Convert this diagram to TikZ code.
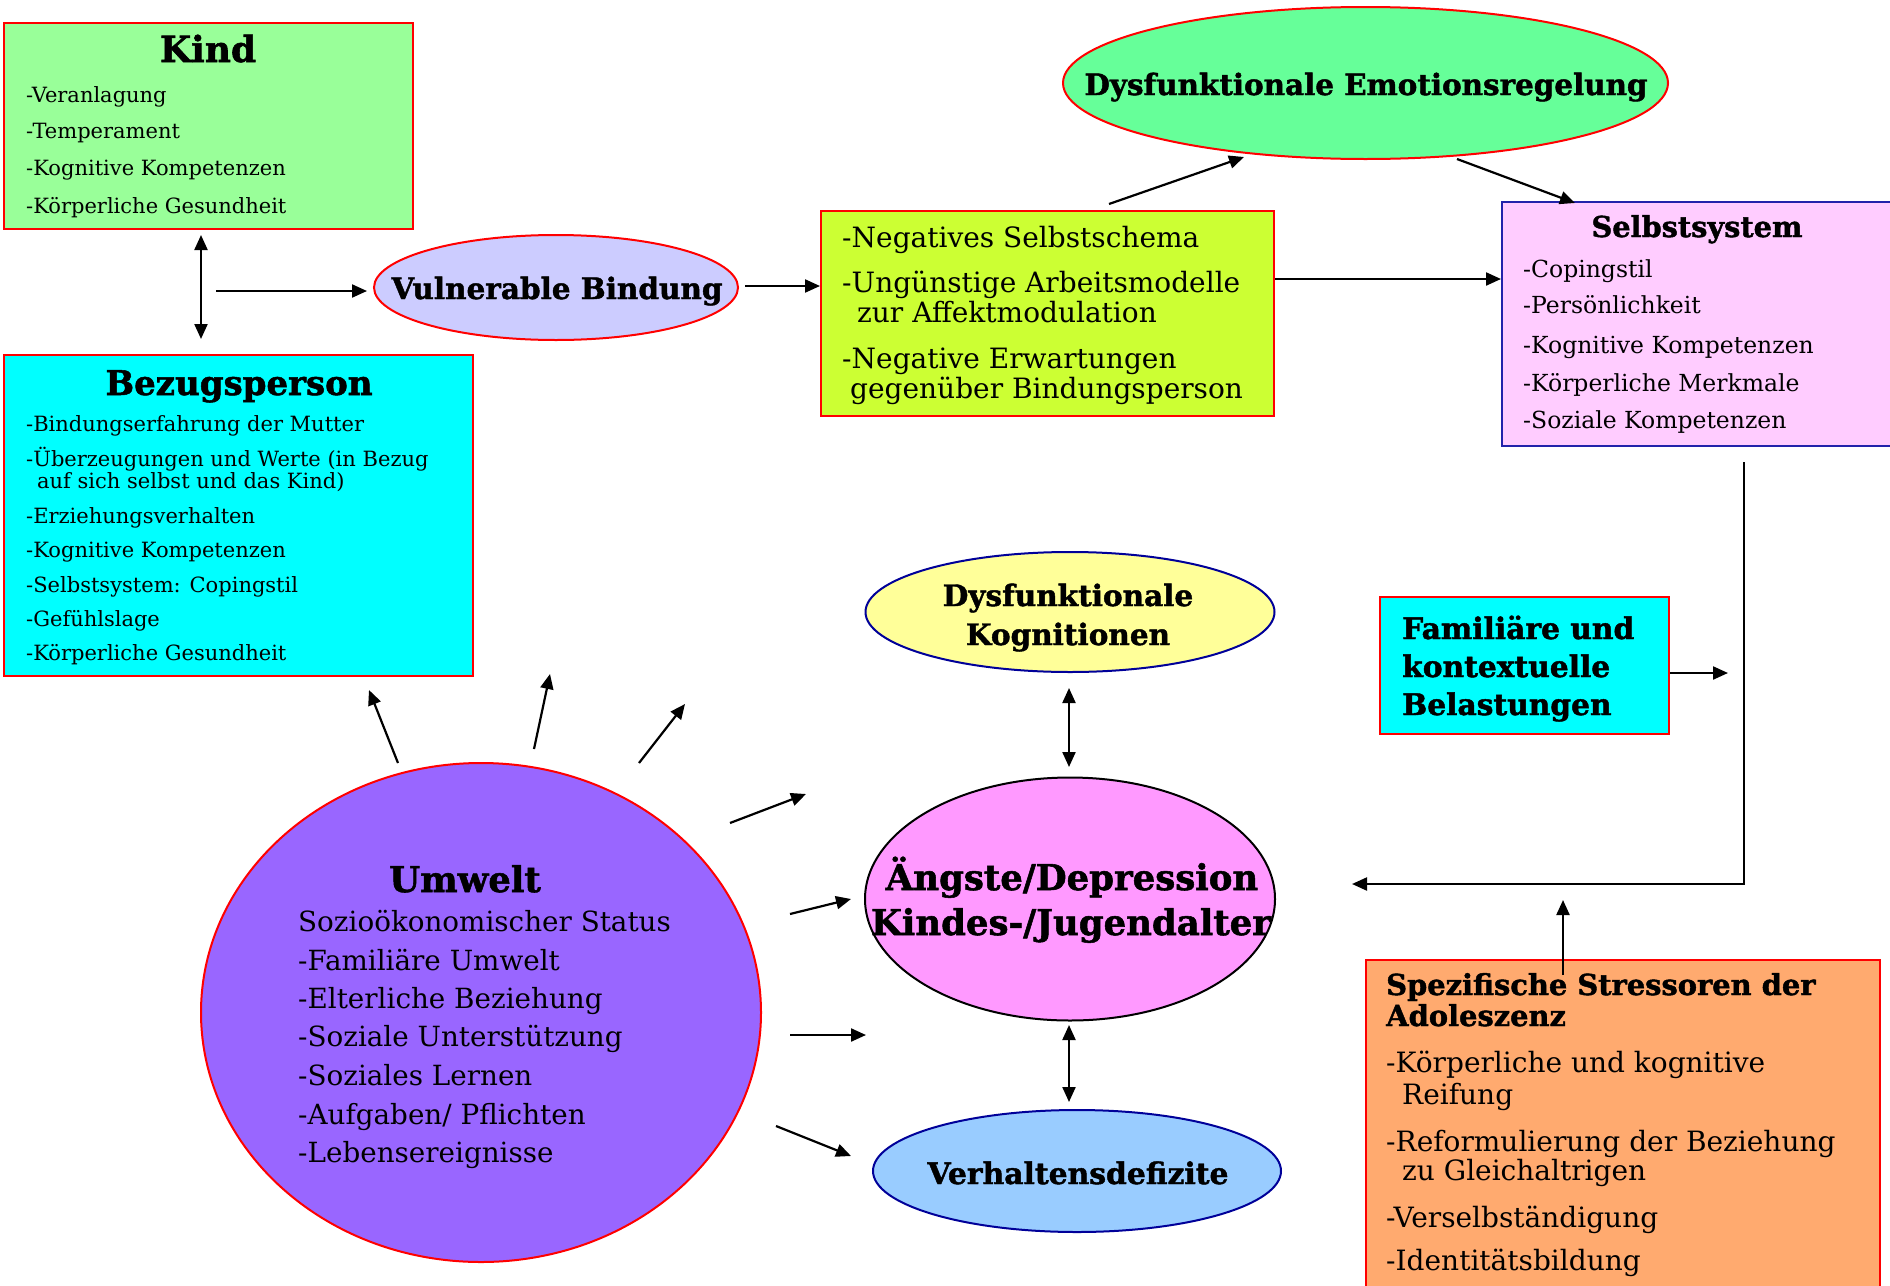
\documentclass[tikz,border=0pt]{standalone}
\usepackage{fontspec}
\setmainfont{DejaVu Serif}[BoldFeatures={FakeBold=1.5}]
\usetikzlibrary{arrows.meta,shapes.geometric}
\definecolor{kindgreen}{HTML}{99FF99}
\definecolor{cyanb}{HTML}{00FFFF}
\definecolor{vulc}{HTML}{CCCCFF}
\definecolor{limec}{HTML}{CCFF33}
\definecolor{emoc}{HTML}{66FF99}
\definecolor{selbc}{HTML}{FFCCFF}
\definecolor{selbb}{HTML}{2222AA}
\definecolor{spezc}{HTML}{FFAA6F}
\definecolor{kognc}{HTML}{FFFF99}
\definecolor{navyb}{HTML}{000099}
\definecolor{angc}{HTML}{FF99FF}
\definecolor{verhc}{HTML}{99CCFF}
\definecolor{umwc}{HTML}{9966FF}
\newcommand{\fsz}[1]{\fontsize{#1}{#1}\selectfont}
\newcommand{\bsz}[1]{\bfseries\fontsize{#1}{#1}\selectfont}
\begin{document}
\begin{tikzpicture}[x=1pt,y=-1pt,
  box/.style={rectangle, draw=red, line width=2pt, inner sep=0pt},
  ell/.style={ellipse, draw=red, line width=2pt, inner sep=0pt},
  it/.style={anchor=base west, inner sep=0pt},
  tt/.style={anchor=base, inner sep=0pt},
  arr/.style={line width=2.2pt, -{Triangle[length=15pt,width=13pt]}},
  darr/.style={line width=2.2pt, {Triangle[length=15pt,width=13pt]}-{Triangle[length=15pt,width=13pt]}}
]
\useasboundingbox (0,0) rectangle (1890,1285);
\fill[white] (0,0) rectangle (1890,1285);

% ---------- shapes ----------
\node[box, fill=kindgreen, minimum width=409pt, minimum height=206pt] (kind) at (208.5,126) {};
\node[box, fill=cyanb, minimum width=469pt, minimum height=321pt] (bezug) at (238.5,515.5) {};
\node[ell, fill=vulc, minimum width=364pt, minimum height=105pt] (vul) at (556,287.5) {};
\node[box, fill=limec, minimum width=453pt, minimum height=205pt] (lime) at (1047.5,313.5) {};
\node[ell, fill=emoc, minimum width=605pt, minimum height=152pt] (emo) at (1365.5,83) {};
\node[box, draw=selbb, fill=selbc, minimum width=398pt, minimum height=244pt] (selbst) at (1701,324) {};
\node[box, fill=cyanb, minimum width=289pt, minimum height=137pt] (fam) at (1524.5,665.5) {};
\node[box, fill=spezc, minimum width=514pt, minimum height=340pt] (spez) at (1623,1130) {};
\node[ell, draw=navyb, fill=kognc, minimum width=409pt, minimum height=120pt] (kogn) at (1070,612) {};
\node[ell, draw=black, fill=angc, minimum width=410pt, minimum height=243pt] (angst) at (1070,899) {};
\node[ell, draw=navyb, fill=verhc, minimum width=408pt, minimum height=122pt] (verh) at (1077,1171) {};
\node[ell, fill=umwc, minimum width=560pt, minimum height=499pt] (umw) at (481,1012.5) {};

% ---------- Kind ----------
\node[tt, font=\bsz{36}] (kindT) at (208,62) {Kind};
\node[it, font=\fsz{21}] (kind1) at (26,102) {-Veranlagung};
\node[it, font=\fsz{21}] (kind2) at (26,138) {-Temperament};
\node[it, font=\fsz{21}] (kind3) at (26,175) {-Kognitive Kompetenzen};
\node[it, font=\fsz{21}] (kind4) at (26,213) {-Körperliche Gesundheit};

% ---------- Bezugsperson ----------
\node[tt, font=\bsz{34}] (bezT) at (239,395) {Bezugsperson};
\node[it, font=\fsz{21}] (bez1) at (26,431) {-Bindungserfahrung der Mutter};
\node[it, font=\fsz{21}] (bez2) at (26,466) {-Überzeugungen und Werte (in Bezug};
\node[it, font=\fsz{21}] (bez2b) at (37,488) {auf sich selbst und das Kind)};
\node[it, font=\fsz{21}] (bez3) at (26,523) {-Erziehungsverhalten};
\node[it, font=\fsz{21}] (bez4) at (26,557) {-Kognitive Kompetenzen};
\node[it, font=\fsz{21}] (bez5) at (26,592) {-Selbstsystem: Copingstil};
\node[it, font=\fsz{21}] (bez6) at (26,626) {-Gefühlslage};
\node[it, font=\fsz{21}] (bez7) at (26,660) {-Körperliche Gesundheit};

% ---------- Vulnerable Bindung ----------
\node[tt, font=\bsz{29.5}] (vulT) at (557,299) {Vulnerable Bindung};

% ---------- lime box ----------
\node[it, font=\fsz{28}] (lime1) at (842,247) {-Negatives Selbstschema};
\node[it, font=\fsz{28}] (lime2) at (842,292) {-Ungünstige Arbeitsmodelle};
\node[it, font=\fsz{28}] (lime2b) at (857,322) {zur Affektmodulation};
\node[it, font=\fsz{28}] (lime3) at (842,368) {-Negative Erwartungen};
\node[it, font=\fsz{28}] (lime3b) at (850,398) {gegenüber Bindungsperson};

% ---------- Emotionsregelung ----------
\node[tt, font=\bsz{29.4}] (emoT) at (1366,95) {Dysfunktionale Emotionsregelung};

% ---------- Selbstsystem ----------
\node[tt, font=\bsz{28.8}] (selT) at (1697,237) {Selbstsystem};
\node[it, font=\fsz{23.5}] (sel1) at (1523,277) {-Copingstil};
\node[it, font=\fsz{23.5}] (sel2) at (1523,313) {-Persönlichkeit};
\node[it, font=\fsz{23.5}] (sel3) at (1523,353) {-Kognitive Kompetenzen};
\node[it, font=\fsz{23.5}] (sel4) at (1523,391) {-Körperliche Merkmale};
\node[it, font=\fsz{23.5}] (sel5) at (1523,428) {-Soziale Kompetenzen};

% ---------- Familiaere ----------
\node[it, font=\bsz{29.7}] (fam1) at (1402,639) {Familiäre und};
\node[it, font=\bsz{29.7}] (fam2) at (1402,677) {kontextuelle};
\node[it, font=\bsz{29.7}] (fam3) at (1402,715) {Belastungen};

% ---------- Spezifische Stressoren ----------
\node[it, font=\bsz{28.9}] (spezT1) at (1386,995) {Spezifische Stressoren der};
\node[it, font=\bsz{28.9}] (spezT2) at (1386,1026) {Adoleszenz};
\node[it, font=\fsz{28}] (spez1) at (1386,1072) {-Körperliche und kognitive};
\node[it, font=\fsz{28}] (spez1b) at (1402,1104) {Reifung};
\node[it, font=\fsz{28}] (spez2) at (1386,1151) {-Reformulierung der Beziehung};
\node[it, font=\fsz{28}] (spez2b) at (1402,1180) {zu Gleichaltrigen};
\node[it, font=\fsz{28}] (spez3) at (1386,1227) {-Verselbständigung};
\node[it, font=\fsz{28}] (spez4) at (1386,1270) {-Identitätsbildung};

% ---------- centre ellipses ----------
\node[tt, font=\bsz{29.5}] (kognT1) at (1068,606) {Dysfunktionale};
\node[tt, font=\bsz{29.5}] (kognT2) at (1068,645) {Kognitionen};
\node[tt, font=\bsz{35.5}] (angT1) at (1072,890) {Ängste/Depression};
\node[tt, font=\bsz{35.5}] (angT2) at (1071,935) {Kindes-/Jugendalter};
\node[tt, font=\bsz{29.8}] (verhT) at (1078,1184) {Verhaltensdefizite};

% ---------- Umwelt ----------
\node[tt, font=\bsz{35.5}] (umwT) at (465,892) {Umwelt};
\node[it, font=\fsz{27.8}] (umw1) at (298,931) {Sozioökonomischer Status};
\node[it, font=\fsz{27.8}] (umw2) at (298,970) {-Familiäre Umwelt};
\node[it, font=\fsz{27.8}] (umw3) at (298,1008) {-Elterliche Beziehung};
\node[it, font=\fsz{27.8}] (umw4) at (298,1046) {-Soziale Unterstützung};
\node[it, font=\fsz{27.8}] (umw5) at (298,1085) {-Soziales Lernen};
\node[it, font=\fsz{27.8}] (umw6) at (298,1124) {-Aufgaben/ Pflichten};
\node[it, font=\fsz{27.8}] (umw7) at (298,1162) {-Lebensereignisse};

% ---------- connectors ----------
\coordinate (kA) at (201,235);
\coordinate (kB) at (201,339);
\draw[darr] (kA) -- (kB);
\coordinate (kvA) at (216,291);
\coordinate (kvB) at (367,291);
\draw[arr] (kvA) -- (kvB);
\coordinate (vlA) at (745,286);
\draw[arr] (vlA) -- (vlA -| lime.west);
\coordinate (le1) at (1109,204);
\coordinate (le2) at (1244,157);
\draw[arr] (le1) -- (le2);
\coordinate (es1) at (1457,159);
\coordinate (es2) at (1575,203);
\draw[arr] (es1) -- (es2);
\coordinate (ls) at (1275,279);
\draw[arr] (ls) -- (ls -| selbst.west);
\coordinate (sl1) at (1744,462);
\coordinate (sl2) at (1744,884);
\coordinate (sl3) at (1352,884);
\draw[arr] (sl1) -- (sl2) -- (sl3);
\coordinate (fa2) at (1728,673);
\draw[arr] (fa2 -| fam.east) -- (fa2);
\coordinate (sp1) at (1563,975);
\coordinate (sp2) at (1563,900);
\draw[arr] (sp1) -- (sp2);
\coordinate (ka1) at (1069,688);
\coordinate (ka2) at (1069,767);
\draw[darr] (ka1) -- (ka2);
\coordinate (av1) at (1069,1025);
\coordinate (av2) at (1069,1102);
\draw[darr] (av1) -- (av2);
\coordinate (u1a) at (398,763); \coordinate (u1b) at (369,690);
\coordinate (u2a) at (534,749); \coordinate (u2b) at (550,674);
\coordinate (u3a) at (639,763); \coordinate (u3b) at (685,704);
\coordinate (u4a) at (730,823); \coordinate (u4b) at (806,794);
\coordinate (u5a) at (790,914); \coordinate (u5b) at (851,899);
\coordinate (u6a) at (790,1035); \coordinate (u6b) at (866,1035);
\coordinate (u7a) at (776,1126); \coordinate (u7b) at (851,1156);
\draw[arr] (u1a) -- (u1b);
\draw[arr] (u2a) -- (u2b);
\draw[arr] (u3a) -- (u3b);
\draw[arr] (u4a) -- (u4b);
\draw[arr] (u5a) -- (u5b);
\draw[arr] (u6a) -- (u6b);
\draw[arr] (u7a) -- (u7b);
\end{tikzpicture}
\end{document}
